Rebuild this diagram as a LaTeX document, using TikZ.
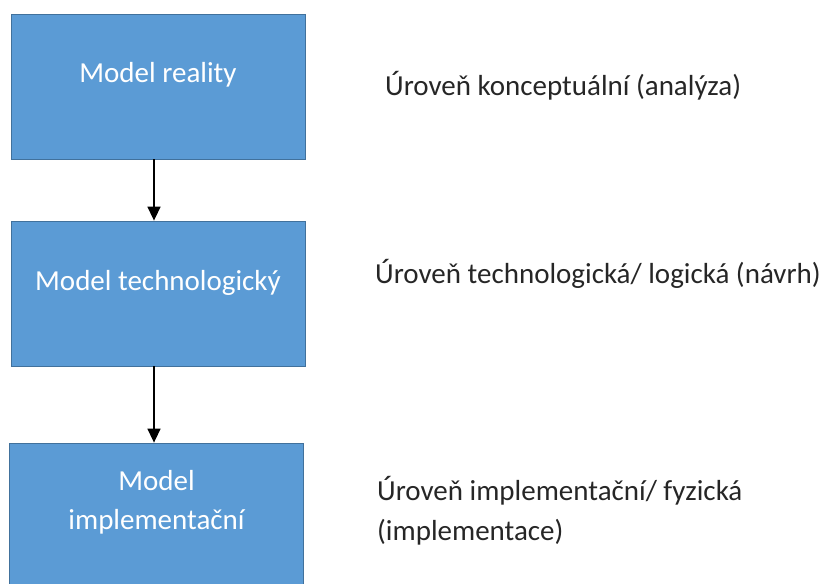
\documentclass[tikz,border=0pt]{standalone}
\usepackage{fontspec}
\setmainfont{Carlito}
\usetikzlibrary{arrows.meta}
\definecolor{boxblue}{HTML}{5B9BD5}
\definecolor{boxline}{HTML}{41719C}
\begin{document}
\begin{tikzpicture}[x=1pt, y=-1pt]
\useasboundingbox (0,0) rectangle (829,583);
\begin{scope}[every node/.style = {rectangle, draw=boxline, line width=0.8pt,
    fill=boxblue, text=white, minimum width=294pt, minimum height=145pt,
    align=center, font=\fontsize{29}{39}\selectfont}]
\node[text height=20pt, text depth=27pt] (reality) at (158, 86.5) {Model reality};
\node[text height=20pt, text depth=27pt] (tech) at (158, 293.5) {Model technologický};
\node[text height=59pt, text depth=31pt] (impl) at (156.5, 515.5) {Model\\implementační};
\end{scope}
\begin{scope}[every node/.style = {anchor=base west, align=left, inner sep=0pt,
    text=black!85, font=\fontsize{29}{40}\selectfont}]
\node (conc) at (385, 96) {Úroveň konceptuální (analýza)};
\node (logic) at (375, 283) {Úroveň technologická/ logická (návrh)};
\node (phys) at (377, 540) {Úroveň implementační/ fyzická\\(implementace)};
\end{scope}
\begin{scope}[every edge/.style = {draw, line width=1.5pt, -{Triangle[width=13pt, length=14pt]}}]
\path ([xshift=-4pt]reality.south) edge ([xshift=-4pt]tech.north);
\path ([xshift=-4pt]tech.south) edge ([xshift=-2.5pt]impl.north);
\end{scope}
\end{tikzpicture}
\end{document}
